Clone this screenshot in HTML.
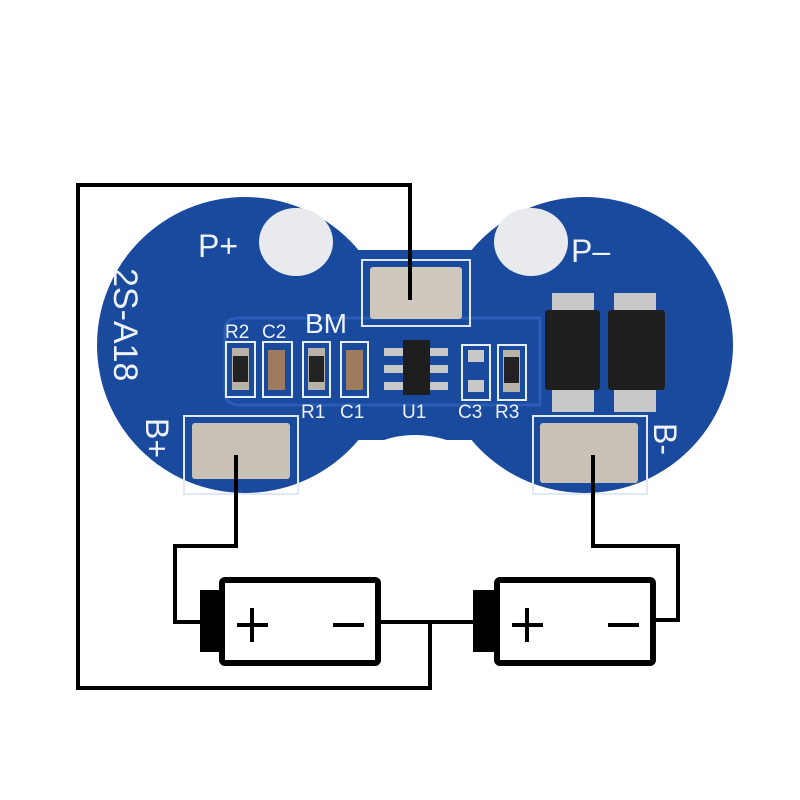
<!DOCTYPE html>
<html><head><style>body{margin:0;background:#fff}svg{display:block}</style></head>
<body>
<svg width="800" height="800" viewBox="0 0 800 800" xmlns="http://www.w3.org/2000/svg" font-family="Liberation Sans, sans-serif">
<rect width="800" height="800" fill="#fff"/>
<!-- board -->
<g fill="#1a4a9e">
<circle cx="245" cy="345" r="148"/>
<circle cx="585" cy="345" r="148"/>
<rect x="245" y="250" width="340" height="190"/>
</g>
<circle cx="415" cy="148" r="100" fill="#fff"/>
<circle cx="415" cy="535" r="100" fill="#fff"/>
<!-- inner trace region -->
<path d="M225 330 Q225 318 240 318 L540 318 L540 405 L240 405 Q225 405 225 392Z" fill="none" stroke="#2a5cb8" stroke-width="3"/>
<!-- white pads -->
<ellipse cx="296" cy="242" rx="37" ry="34" fill="#e9eaee"/>
<ellipse cx="531" cy="242" rx="37" ry="34" fill="#e9eaee"/>
<!-- BM pad -->
<rect x="362" y="260" width="108" height="66" fill="none" stroke="#dfe8f5" stroke-width="2"/>
<rect x="370" y="267" width="92" height="52" rx="3" fill="#cfc8bd"/>
<!-- B+ pad -->
<rect x="184" y="416" width="114" height="78" fill="none" stroke="#dfe8f5" stroke-width="2"/>
<rect x="192" y="423" width="98" height="56" rx="3" fill="#c9c1b6"/>
<!-- B- pad -->
<rect x="533" y="416" width="114" height="78" fill="none" stroke="#dfe8f5" stroke-width="2"/>
<rect x="540" y="423" width="98" height="60" rx="3" fill="#c9c1b6"/>
<!-- small components -->
<g fill="none" stroke="#e6eef8" stroke-width="2">
<rect x="226" y="342" width="29" height="55"/><rect x="263" y="342" width="29" height="55"/>
<rect x="303" y="342" width="27" height="55"/><rect x="341" y="342" width="27" height="55"/>
<rect x="462" y="345" width="28" height="55"/><rect x="498" y="345" width="28" height="55"/>
</g>
<g>
<rect x="232" y="348" width="17" height="42" fill="#b8b2a8"/><rect x="233" y="356" width="15" height="26" fill="#222"/>
<rect x="268" y="350" width="17" height="40" fill="#9c7c5c"/>
<rect x="308" y="348" width="17" height="42" fill="#b8b2a8"/><rect x="309" y="356" width="15" height="26" fill="#222"/>
<rect x="346" y="350" width="17" height="40" fill="#9c7c5c"/>
<rect x="468" y="350" width="16" height="12" fill="#c8c8c8"/><rect x="468" y="380" width="16" height="12" fill="#c8c8c8"/>
<rect x="503" y="350" width="17" height="42" fill="#b8b2a8"/><rect x="504" y="357" width="15" height="26" fill="#222"/>
</g>
<!-- U1 -->
<g fill="#c8c8c8"><rect x="384" y="348" width="20" height="8"/><rect x="384" y="365" width="20" height="8"/><rect x="384" y="382" width="20" height="8"/>
<rect x="428" y="348" width="20" height="8"/><rect x="428" y="365" width="20" height="8"/><rect x="428" y="382" width="20" height="8"/></g>
<rect x="403" y="340" width="27" height="55" fill="#1e1e1e"/>
<!-- MOSFETs -->
<g fill="#c8c8c8">
<rect x="552" y="293" width="42" height="20"/><rect x="552" y="387" width="42" height="25"/>
<rect x="614" y="293" width="42" height="20"/><rect x="614" y="387" width="42" height="25"/>
</g>
<rect x="545" y="310" width="55" height="80" rx="3" fill="#1f1f1f"/>
<rect x="608" y="310" width="57" height="80" rx="3" fill="#1f1f1f"/>
<!-- text -->
<g fill="#eef3fb">
<text x="198" y="257" font-size="32">P+</text>
<text x="571" y="262" font-size="32">P–</text>
<text x="305" y="333" font-size="28">BM</text>
<text x="225" y="338" font-size="19">R2</text><text x="262" y="338" font-size="19">C2</text>
<text x="301" y="418" font-size="19">R1</text><text x="340" y="418" font-size="19">C1</text>
<text x="402" y="418" font-size="19">U1</text>
<text x="458" y="418" font-size="19">C3</text><text x="495" y="418" font-size="19">R3</text>
<text transform="translate(114,268) rotate(90)" font-size="34">2S-A18</text>
<text transform="translate(146,418) rotate(90)" font-size="32">B+</text>
<text transform="translate(654,423) rotate(90)" font-size="32">B-</text>
</g>
<!-- wires -->
<g fill="none" stroke="#000" stroke-width="4">
<polyline points="410,300 410,185 78,185 78,688 430,688 430,622"/>
<polyline points="236,455 236,546 175,546 175,622 200,622"/>
<line x1="378" y1="622" x2="473" y2="622"/>
<polyline points="593,455 593,546 678,546 678,620 655,620"/>
</g>
<!-- batteries -->
<g>
<rect x="200" y="590" width="22" height="62" fill="#000"/>
<rect x="222" y="580" width="156" height="83" rx="3" fill="#fff" stroke="#000" stroke-width="6"/>
<rect x="473" y="590" width="22" height="62" fill="#000"/>
<rect x="497" y="580" width="156" height="83" rx="3" fill="#fff" stroke="#000" stroke-width="6"/>
<g stroke="#000" stroke-width="4">
<line x1="237" y1="625" x2="268" y2="625"/><line x1="252" y1="608" x2="252" y2="642"/>
<line x1="333" y1="625" x2="364" y2="625"/>
<line x1="512" y1="625" x2="543" y2="625"/><line x1="527" y1="608" x2="527" y2="642"/>
<line x1="608" y1="625" x2="639" y2="625"/>
</g>
</g>
</svg>
</body></html>
